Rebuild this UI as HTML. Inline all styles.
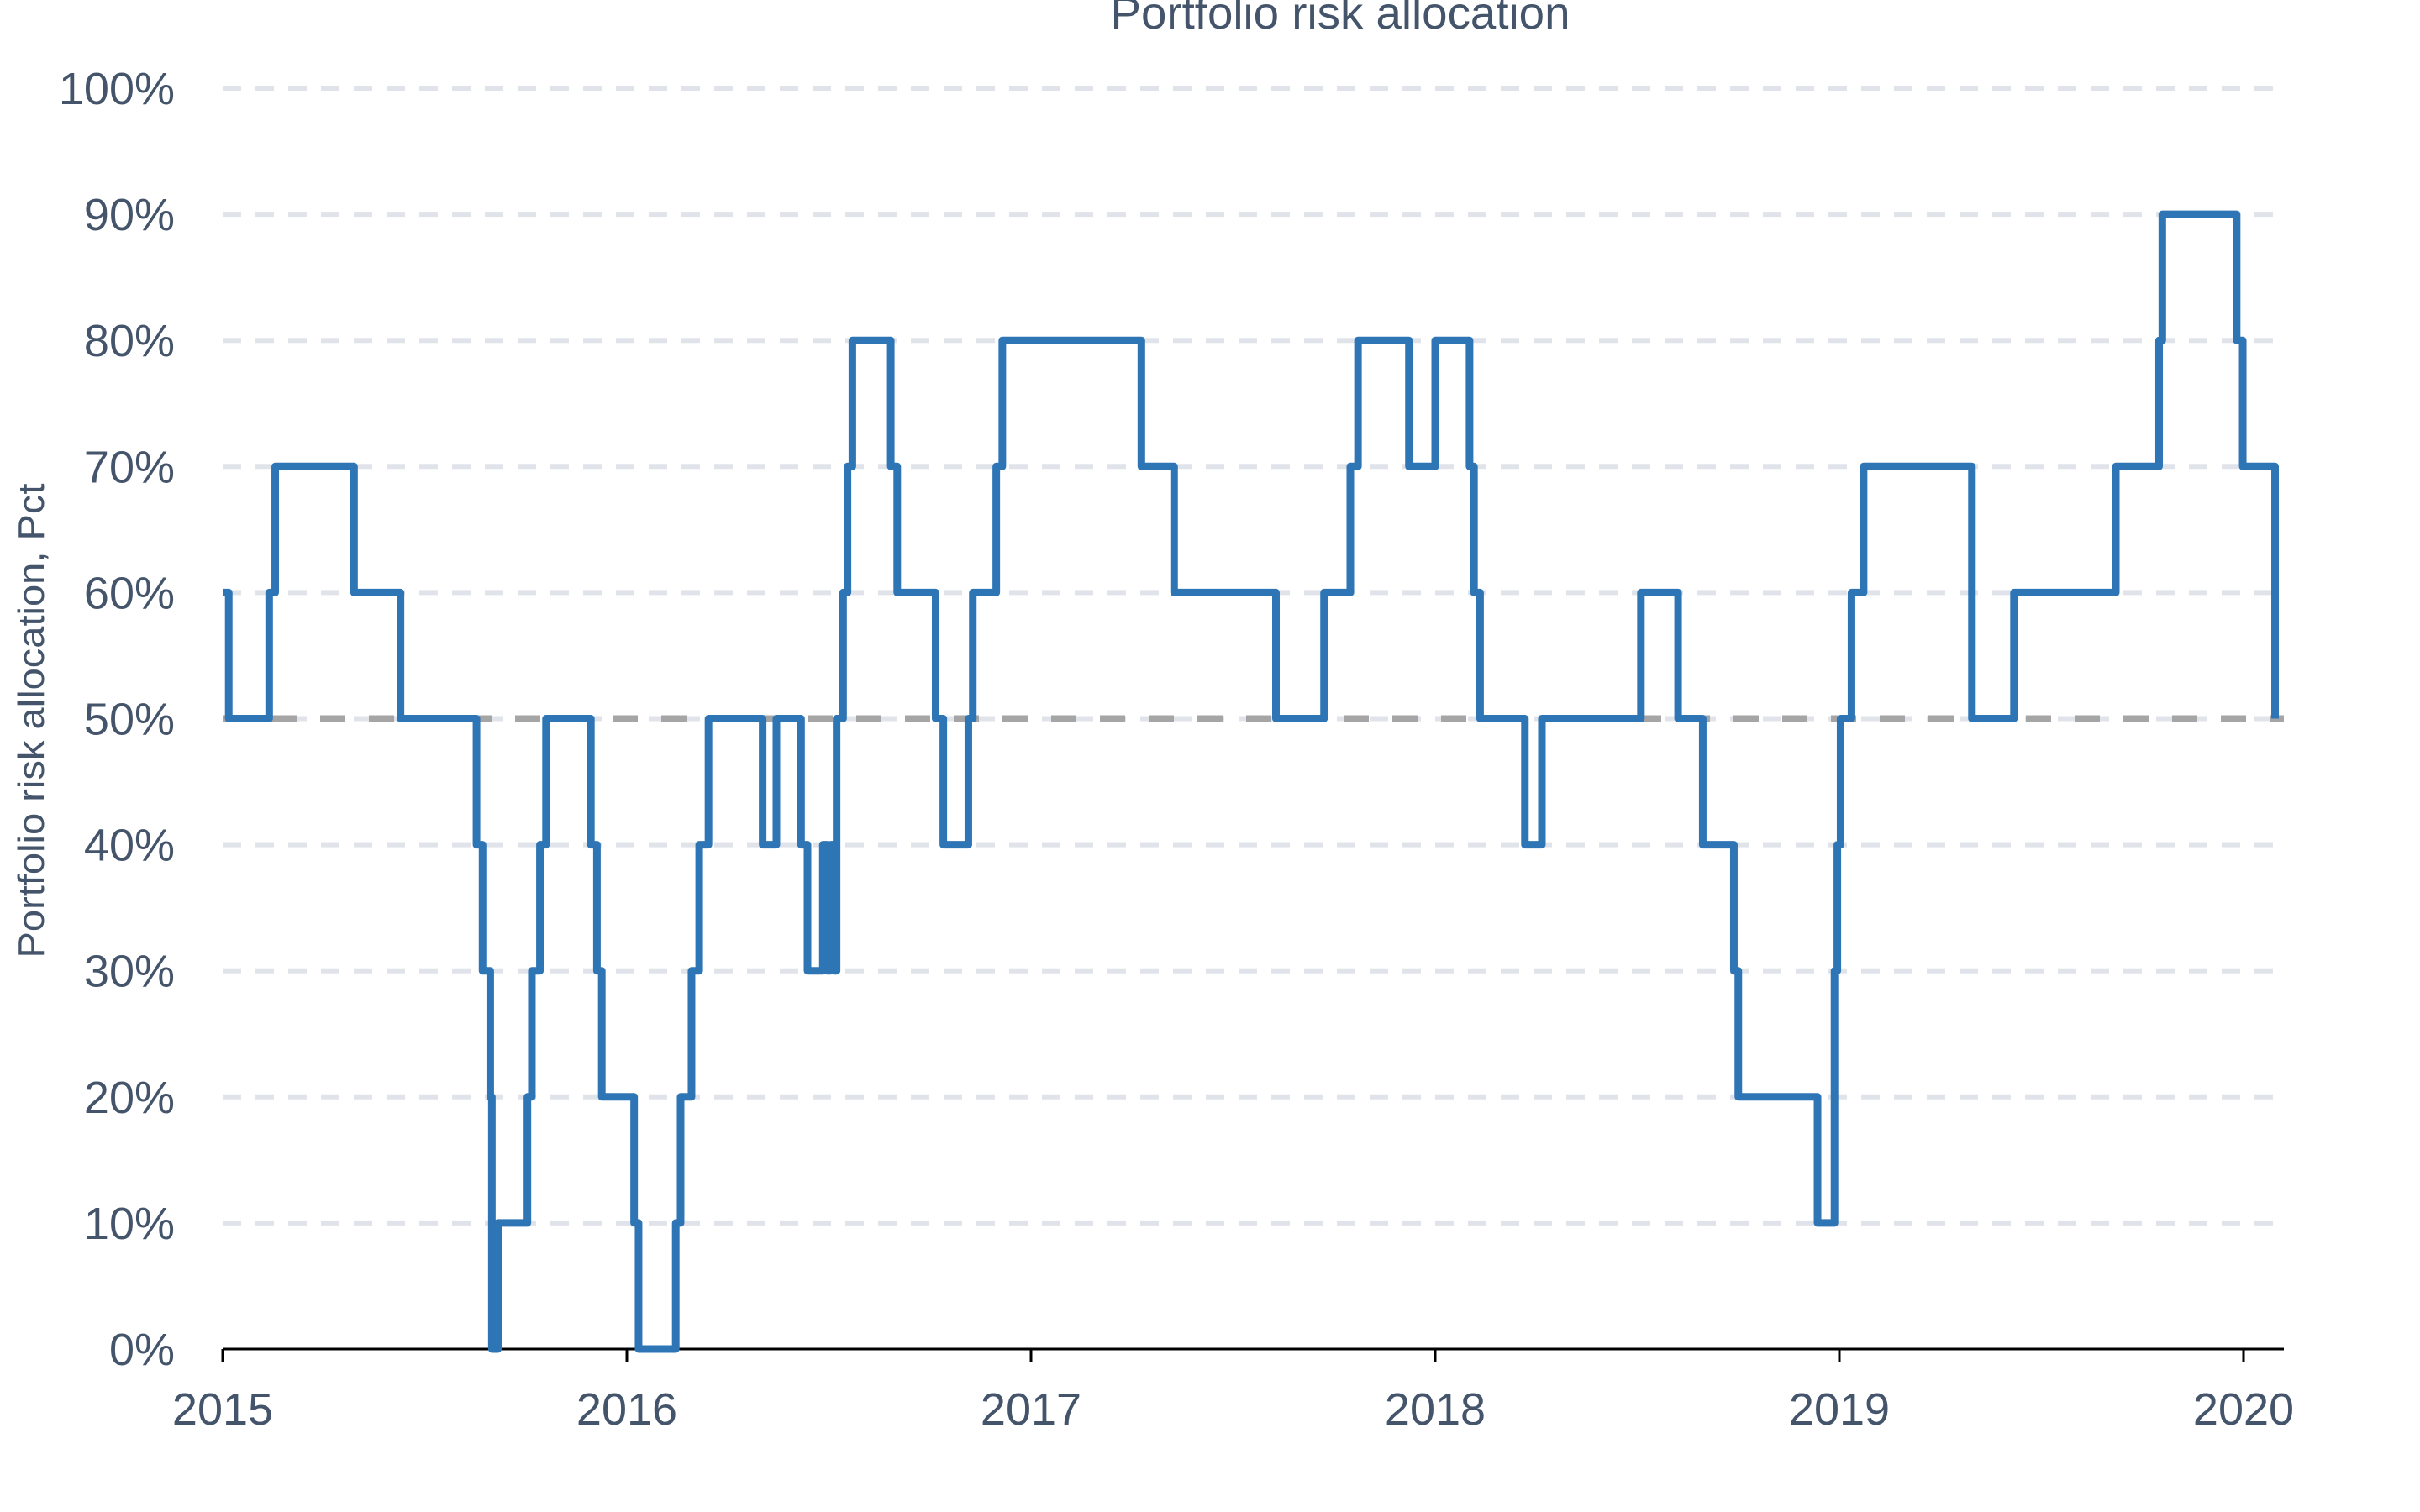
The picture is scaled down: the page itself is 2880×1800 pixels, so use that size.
<!DOCTYPE html>
<html><head><meta charset="utf-8"><style>
html,body{margin:0;padding:0;background:#fff;}
svg{display:block;}
text{font-family:"Liberation Sans Narrow","Liberation Sans",sans-serif;fill:#44546a;}
</style></head><body>
<svg id="chart" width="2880" height="1800" viewBox="0 0 2880 1800" xmlns="http://www.w3.org/2000/svg">
<text x="1595" y="34" text-anchor="middle" font-size="54" textLength="547" lengthAdjust="spacingAndGlyphs">Portfolio risk allocation</text>
<text transform="translate(52,858) rotate(-90)" text-anchor="middle" font-size="44" style="font-family:'Liberation Sans',sans-serif" textLength="565" lengthAdjust="spacingAndGlyphs">Portfolio risk allocation, Pct</text>
<g id="grid"></g>
<g id="yticks"></g>
<g id="xaxis"></g>
<g id="series"></g>
</svg>
<script>
const yTickValues = [0,10,20,30,40,50,60,70,80,90,100];
const xTickYears = [2015,2016,2017,2018,2019,2020];
const benchmarkValue = 50;
const dates = [2015.000,2015.015,2015.115,2015.130,2015.325,2015.440,2015.628,2015.643,2015.662,2015.666,2015.681,2015.754,2015.765,2015.785,2015.800,2015.911,2015.926,2015.938,2016.018,2016.029,2016.121,2016.133,2016.160,2016.179,2016.202,2016.336,2016.370,2016.431,2016.447,2016.485,2016.496,2016.504,2016.512,2016.519,2016.535,2016.546,2016.558,2016.653,2016.669,2016.764,2016.783,2016.845,2016.856,2016.914,2016.929,2017.273,2017.354,2017.606,2017.725,2017.790,2017.809,2017.935,2018.000,2018.085,2018.096,2018.111,2018.222,2018.264,2018.509,2018.601,2018.662,2018.739,2018.750,2018.946,2018.988,2018.995,2019.003,2019.030,2019.060,2019.328,2019.432,2019.684,2019.791,2019.799,2019.983,2019.998,2020.078];
const values = [60,50,60,70,60,50,40,30,20,0,10,20,30,40,50,40,30,20,10,0,10,20,30,40,50,40,50,40,30,40,30,40,30,50,60,70,80,70,60,50,40,50,60,70,80,70,60,50,60,70,80,70,80,70,60,50,40,50,60,50,40,30,20,10,30,40,50,60,70,50,60,70,80,90,80,70,50];

const NS="http://www.w3.org/2000/svg";
const X0=265, XPY=481, Y0=1606, Y100=105, XEND=2718;
const xs=d=>X0+(d-2015)*XPY;
const ys=v=>Y0-(v/100)*(Y0-Y100);
function mk(tag,attrs,parent){const e=document.createElementNS(NS,tag);for(const k in attrs)e.setAttribute(k,attrs[k]);parent.appendChild(e);return e;}
const grid=document.getElementById('grid'), yt=document.getElementById('yticks'), xa=document.getElementById('xaxis'), se=document.getElementById('series');
yTickValues.forEach(v=>{
  if(v>0){const g=mk('line',{x1:X0,x2:XEND,y1:ys(v),y2:ys(v),stroke:'#e0e3ea','stroke-width':6,'stroke-dasharray':'22 17'},grid);
  
  }
  const t=mk('text',{x:208,y:ys(v)+19,'text-anchor':'end','font-size':54},yt);
  t.textContent=v+'%';
  
  
});
const ax=mk('line',{x1:X0,x2:XEND,y1:Y0,y2:Y0,stroke:'#000','stroke-width':3},xa);


xTickYears.forEach(yr=>{
  const tk=mk('line',{x1:xs(yr),x2:xs(yr),y1:Y0,y2:Y0+16,stroke:'#000','stroke-width':3},xa);
  
  
  const t=mk('text',{x:xs(yr),y:Y0+90,'text-anchor':'middle','font-size':54},xa);
  t.textContent=yr;
  
  
});
const bl=mk('line',{x1:X0,x2:XEND,y1:ys(benchmarkValue),y2:ys(benchmarkValue),stroke:'#a5a5a5','stroke-width':8,'stroke-dasharray':'30 28'},se);


let pts=[];
for(let i=0;i<dates.length;i++){
  if(i>0)pts.push(xs(dates[i])+','+ys(values[i-1]));
  pts.push(xs(dates[i])+','+ys(values[i]));
}
const line=mk('polyline',{points:pts.join(' '),fill:'none',stroke:'#2e75b6','stroke-width':9,'stroke-linejoin':'round'},se);


</script>
</body></html>
